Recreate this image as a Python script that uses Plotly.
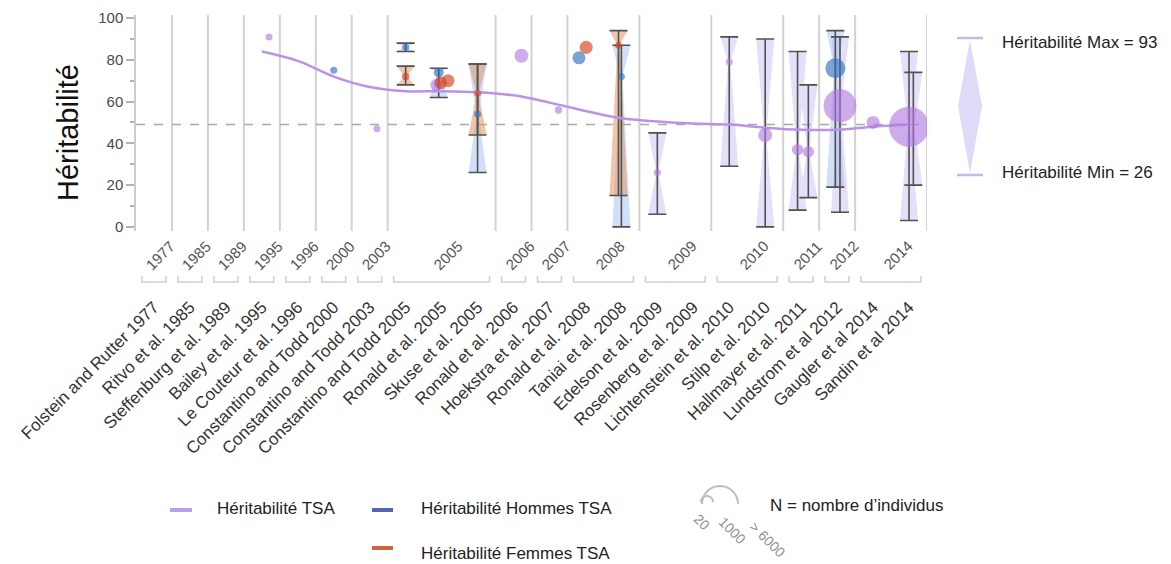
import math
import plotly.graph_objects as go

# ---------------- data ----------------
STUDIES = [
    "Folstein and Rutter 1977", "Ritvo et al. 1985", "Steffenburg et al. 1989",
    "Bailey et al. 1995", "Le Couteur et al. 1996", "Constantino and Todd 2000",
    "Constantino and Todd 2003", "Constantino and Todd 2005", "Ronald et al. 2005",
    "Skuse et al. 2005", "Ronald et al. 2006", "Hoekstra et al. 2007",
    "Ronald et al. 2008", "Taniai et al. 2008", "Edelson et al. 2009",
    "Rosenberg et al. 2009", "Lichtenstein et al. 2010", "Stilp et al. 2010",
    "Hallmayer et al. 2011", "Lundstrom et al 2012", "Gaugler et al 2014",
    "Sandin et al 2014",
]
YEARS = ["1977", "1985", "1989", "1995", "1996", "2000", "2003", "2005",
         "2006", "2007", "2008", "2009", "2010", "2011", "2012", "2014"]
YEAR_COUNTS = [1, 1, 1, 1, 1, 1, 1, 3, 1, 1, 2, 2, 2, 1, 1, 2]

# Heritability, all ASD (TSA)
tsa_study = ["Bailey et al. 1995", "Constantino and Todd 2003", "Ronald et al. 2005",
             "Ronald et al. 2006", "Hoekstra et al. 2007", "Edelson et al. 2009",
             "Lichtenstein et al. 2010", "Stilp et al. 2010", "Hallmayer et al. 2011",
             "Hallmayer et al. 2011", "Lundstrom et al 2012", "Gaugler et al 2014",
             "Sandin et al 2014", "Sandin et al 2014"]
tsa_h2 = [91, 47, 68, 82, 56, 26, 79, 44, 37, 36, 58, 50, 48, 48]
tsa_lo = [None, None, None, None, None, 6, 29, 0, 8, 14, 7, None, 3, 20]
tsa_hi = [None, None, None, None, None, 45, 91, 90, 84, 68, 91, None, 84, 74]
tsa_n = [20, 20, 240, 400, 30, 20, 20, 400, 200, 200, 3800, 320, 6000, None]

# Heritability, males
hom_study = ["Constantino and Todd 2000", "Constantino and Todd 2005", "Ronald et al. 2005",
             "Skuse et al. 2005", "Ronald et al. 2008", "Taniai et al. 2008",
             "Lundstrom et al 2012"]
hom_h2 = [75, 86, 74, 54, 81, 72, 76]
hom_lo = [None, 84, 62, 26, None, 0, 19]
hom_hi = [None, 88, 76, 78, None, 87, 94]
hom_n = [20, 20, 120, 20, 320, 20, 1100]

# Heritability, females
fem_study = ["Constantino and Todd 2005", "Ronald et al. 2005", "Ronald et al. 2005",
             "Skuse et al. 2005", "Ronald et al. 2008", "Taniai et al. 2008"]
fem_h2 = [72, 69, 70, 64, 86, 87]
fem_lo = [68, None, None, 44, None, 15]
fem_hi = [77, None, None, 78, None, 94]
fem_n = [30, 300, 300, 20, 320, 20]

# smoothed overall trend, one value per study from Bailey 1995 onwards
trend_h2 = [84, 79.5, 72, 67, 65, 65, 64.5, 63, 59.5, 55.5, 52, 50.5,
            49.5, 49, 47.5, 46.5, 46.5, 48, 49]
REFERENCE_LEVEL = 49

LEGEND_MAX, LEGEND_MIN = 93, 26

# ---------------- layout geometry / style ----------------
W, H = 1171, 564
L, R, T, B = 136, 927, 15, 231
NSLOT = len(STUDIES)
SLOT = (R - L) / NSLOT
FONT = "Liberation Sans, Arial, sans-serif"

PURPLE = "rgba(176,118,222,0.88)"
BLUE = "rgba(48,112,192,0.92)"
RED = "rgba(214,64,28,0.92)"
FILL = {"tsa": "rgba(190,172,238,0.38)", "hom": "rgba(140,182,238,0.42)",
        "fem": "rgba(226,152,100,0.55)"}
BAR_COLOR = "#505050"

# small horizontal dodge for marks sharing one study column
DODGE = {
    ("tsa", 0): 0.2, ("tsa", 1): 0.2, ("tsa", 2): -0.15, ("tsa", 3): 0.22,
    ("tsa", 4): 0.25, ("tsa", 8): -0.1, ("tsa", 9): 0.2, ("tsa", 10): 0.08,
    ("tsa", 12): 0.0, ("tsa", 13): 0.12,
    ("hom", 2): -0.08, ("hom", 4): -0.18, ("hom", 6): -0.05,
    ("fem", 1): -0.02, ("fem", 2): 0.18, ("fem", 4): 0.02, ("fem", 5): -0.08,
}


def n_to_diameter(n):
    return 5 + 35 * (n / 6000) ** 0.5


def px_x(x):
    return (x - L) / (R - L)


def px_y(y):
    return (B - y) / (B - T)


idx = {s: i for i, s in enumerate(STUDIES)}

fig = go.Figure()

series = [
    ("tsa", tsa_study, tsa_h2, tsa_lo, tsa_hi, tsa_n, PURPLE),
    ("hom", hom_study, hom_h2, hom_lo, hom_hi, hom_n, BLUE),
    ("fem", fem_study, fem_h2, fem_lo, fem_hi, fem_n, RED),
]

HW, PW = 0.25, 0.03  # hourglass half-widths (slot units) at the ends / at the estimate

# hourglass bands
for key, st, h2, lo, hi, n, col in series:
    xs, ys = [], []
    for k in range(len(st)):
        if lo[k] is None:
            continue
        xc = idx[st[k]] + DODGE.get((key, k), 0)
        xs += [xc - HW, xc + HW, xc + PW, xc + HW, xc - HW, xc - PW, xc - HW, None]
        ys += [hi[k], hi[k], h2[k], lo[k], lo[k], h2[k], hi[k], None]
    fig.add_trace(go.Scatter(x=xs, y=ys, mode="lines", fill="toself",
                             fillcolor=FILL[key], line=dict(width=0),
                             hoverinfo="skip", showlegend=False))

# error bars
for key, st, h2, lo, hi, n, col in series:
    xs, ys, up, dn = [], [], [], []
    for k in range(len(st)):
        if lo[k] is None:
            continue
        xs.append(idx[st[k]] + DODGE.get((key, k), 0))
        ys.append(h2[k])
        up.append(hi[k] - h2[k])
        dn.append(h2[k] - lo[k])
    fig.add_trace(go.Scatter(
        x=xs, y=ys, mode="markers", marker=dict(size=1, color="rgba(0,0,0,0)"),
        error_y=dict(type="data", symmetric=False, array=up, arrayminus=dn,
                     color=BAR_COLOR, thickness=1.6, width=9),
        hoverinfo="skip", showlegend=False))

# trend line
fig.add_trace(go.Scatter(
    x=list(range(NSLOT - len(trend_h2), NSLOT)), y=trend_h2, mode="lines",
    line=dict(color="#b994e6", width=2.5, shape="spline", smoothing=1.0),
    hoverinfo="skip", showlegend=False))

# estimates (marker size follows number of individuals)
for key, st, h2, lo, hi, n, col in series:
    xs, ys, sz = [], [], []
    for k in range(len(st)):
        if n[k] is None:
            continue
        xs.append(idx[st[k]] + DODGE.get((key, k), 0))
        ys.append(h2[k])
        sz.append(n_to_diameter(n[k]))
    fig.add_trace(go.Scatter(x=xs, y=ys, mode="markers",
                             marker=dict(size=sz, color=col, line=dict(width=0)),
                             showlegend=False))

shapes = []
annotations = []

# vertical separators between publication years
edge = 0
for c in YEAR_COUNTS:
    edge += c
    shapes.append(dict(type="line", xref="x", yref="paper", x0=edge - 0.5, x1=edge - 0.5,
                       y0=0, y1=1, line=dict(color="#d2d2d2", width=2), layer="below"))

# reference level
shapes.append(dict(type="line", xref="paper", yref="y", x0=0, x1=1,
                   y0=REFERENCE_LEVEL, y1=REFERENCE_LEVEL,
                   line=dict(color="#a9a9a9", width=1.5, dash="dash"), layer="below"))

# year brackets and labels
start = 0
inset = 6 / SLOT
yb_top, yb_bot = px_y(276), px_y(282)
for yr, c in zip(YEARS, YEAR_COUNTS):
    x0 = start - 0.5 + inset
    x1 = start + c - 0.5 - inset
    shapes.append(dict(type="path", xref="x", yref="paper",
                       path=f"M {x0},{yb_top} L {x0},{yb_bot} L {x1},{yb_bot} L {x1},{yb_top}",
                       line=dict(color="#cfcfcf", width=1.5)))
    annotations.append(dict(xref="x", yref="paper", x=start + (c - 1) / 2 + 6 / SLOT,
                            y=px_y(255), text=yr, textangle=-45, showarrow=False,
                            xanchor="center", yanchor="middle",
                            font=dict(size=15, color="#555555")))
    start += c

# y-axis title
annotations.append(dict(xref="paper", yref="paper", x=px_x(68), y=px_y(133),
                        text="Héritabilité", textangle=-90, showarrow=False,
                        xanchor="center", yanchor="middle",
                        font=dict(size=29, color="#111111")))

# range legend (right side)
cx = 970
shapes.append(dict(type="path", xref="paper", yref="paper",
                   path=(f"M {px_x(cx)},{px_y(40)} L {px_x(cx + 12)},{px_y(106)} "
                         f"L {px_x(cx)},{px_y(173)} L {px_x(cx - 12)},{px_y(106)} Z"),
                   fillcolor="rgba(200,186,242,0.55)", line=dict(width=0)))
for yy in (38, 175):
    shapes.append(dict(type="line", xref="paper", yref="paper",
                       x0=px_x(957), x1=px_x(983), y0=px_y(yy), y1=px_y(yy),
                       line=dict(color="#c6b8ef", width=2.5)))
annotations.append(dict(xref="paper", yref="paper", x=px_x(1000), y=px_y(42),
                        text=f"Héritabilité Max = {LEGEND_MAX}", showarrow=False,
                        xanchor="left", yanchor="middle", font=dict(size=17, color="#222")))
annotations.append(dict(xref="paper", yref="paper", x=px_x(1000), y=px_y(173),
                        text=f"Héritabilité Min = {LEGEND_MIN}", showarrow=False,
                        xanchor="left", yanchor="middle", font=dict(size=17, color="#222")))

# series legend (bottom)
legend_items = [
    (170, 192, 510, "#b9a0e8", 215, 508, "Héritabilité TSA"),
    (372, 393, 510, "#5567b2", 419, 508, "Héritabilité Hommes TSA"),
    (372, 393, 548, "#d0643c", 419, 553, "Héritabilité Femmes TSA"),
]
for x0, x1, yl, col, xt, yt, txt in legend_items:
    shapes.append(dict(type="line", xref="paper", yref="paper",
                       x0=px_x(x0), x1=px_x(x1), y0=px_y(yl), y1=px_y(yl),
                       line=dict(color=col, width=4)))
    annotations.append(dict(xref="paper", yref="paper", x=px_x(xt), y=px_y(yt),
                            text=txt, showarrow=False, xanchor="left", yanchor="middle",
                            font=dict(size=17, color="#222")))


# size legend: arcs and sample-size labels
def arc_path(cxp, cyp, r, a0=180, a1=0, steps=24):
    pts = []
    for s in range(steps + 1):
        a = math.radians(a0 + (a1 - a0) * s / steps)
        pts.append((px_x(cxp + r * math.cos(a)), px_y(cyp - r * math.sin(a))))
    return "M " + " L ".join(f"{x},{y}" for x, y in pts)


for cxp, cyp, r in [(707, 502, 6), (720, 504, 18)]:
    shapes.append(dict(type="path", xref="paper", yref="paper",
                       path=arc_path(cxp, cyp, r), line=dict(color="#bdbdbd", width=2)))
for xt, yt, txt in [(702, 522, "20"), (732, 530, "1000"), (767, 539, "&gt; 6000")]:
    annotations.append(dict(xref="paper", yref="paper", x=px_x(xt), y=px_y(yt),
                            text=txt, textangle=45, showarrow=False,
                            xanchor="center", yanchor="middle",
                            font=dict(size=14, color="#8f8f8f")))
annotations.append(dict(xref="paper", yref="paper", x=px_x(768), y=px_y(506),
                        text="N = nombre d’individus", showarrow=False,
                        xanchor="left", yanchor="middle", font=dict(size=17, color="#222")))

fig.update_layout(
    width=W, height=H, autosize=False,
    margin=dict(l=L, r=W - R, t=T, b=H - B, pad=0),
    paper_bgcolor="white", plot_bgcolor="white",
    font=dict(family=FONT),
    showlegend=False,
    shapes=shapes, annotations=annotations,
    xaxis=dict(range=[-0.5, NSLOT - 0.5], tickmode="array", tickvals=list(range(NSLOT)),
               ticktext=STUDIES, tickangle=-45, showgrid=False, zeroline=False,
               showline=False, ticks="", ticklabelstandoff=62, automargin=False,
               tickfont=dict(size=17, color="#333333")),
    yaxis=dict(range=[-2, 101.5], tickmode="linear", tick0=0, dtick=20,
               ticks="outside", ticklen=8, tickcolor="#b3b3b3", tickwidth=1.5,
               showline=True, linecolor="#cccccc", linewidth=1.5,
               showgrid=False, zeroline=False, automargin=False,
               tickfont=dict(size=15, color="#4a4a4a"),
               minor=dict(dtick=10, ticks="outside", ticklen=4, tickcolor="#b3b3b3")),
)

fig.write_html("out.html")
